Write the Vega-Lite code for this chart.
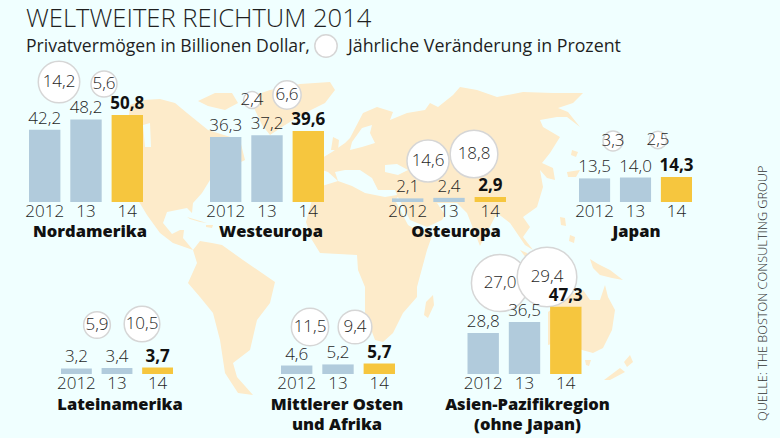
{"$schema":"https://vega.github.io/schema/vega-lite/v6.json","width":780,"height":438,"padding":0,"autosize":{"type":"none"},"background":"#f0ffff","config":{"view":{"stroke":null},"locale":{"number":{"decimal":",","thousands":".","grouping":[3],"currency":["","€"]}},"text":{"font":"Open Sans","fontWeight":300,"color":"#1f1f1f"}},"resolve":{"scale":{"x":"independent","y":"independent"}},"datasets":{"regionen":[
{"region":"Nordamerika","jahr":"2012","wert":42.2},{"region":"Nordamerika","jahr":"13","wert":48.2,"veraenderung":14.2},{"region":"Nordamerika","jahr":"14","wert":50.8,"veraenderung":5.6},
{"region":"Westeuropa","jahr":"2012","wert":36.3},{"region":"Westeuropa","jahr":"13","wert":37.2,"veraenderung":2.4},{"region":"Westeuropa","jahr":"14","wert":39.6,"veraenderung":6.6},
{"region":"Osteuropa","jahr":"2012","wert":2.1},{"region":"Osteuropa","jahr":"13","wert":2.4,"veraenderung":14.6},{"region":"Osteuropa","jahr":"14","wert":2.9,"veraenderung":18.8},
{"region":"Japan","jahr":"2012","wert":13.5},{"region":"Japan","jahr":"13","wert":14.0,"veraenderung":3.3},{"region":"Japan","jahr":"14","wert":14.3,"veraenderung":2.5},
{"region":"Lateinamerika","jahr":"2012","wert":3.2},{"region":"Lateinamerika","jahr":"13","wert":3.4,"veraenderung":5.9},{"region":"Lateinamerika","jahr":"14","wert":3.7,"veraenderung":10.5},
{"region":"Mittlerer Osten\nund Afrika","jahr":"2012","wert":4.6},{"region":"Mittlerer Osten\nund Afrika","jahr":"13","wert":5.2,"veraenderung":11.5},{"region":"Mittlerer Osten\nund Afrika","jahr":"14","wert":5.7,"veraenderung":9.4},
{"region":"Asien-Pazifikregion\n(ohne Japan)","jahr":"2012","wert":28.8},{"region":"Asien-Pazifikregion\n(ohne Japan)","jahr":"13","wert":36.5,"veraenderung":27.0},{"region":"Asien-Pazifikregion\n(ohne Japan)","jahr":"14","wert":47.3,"veraenderung":29.4}
]},"layer":[
{"data":{"values":{"type":"FeatureCollection","features":[
{"type":"Feature","properties":{"n":"Nordamerika"},"geometry":{"type":"Polygon","coordinates":[[[-106,84],[-97.5,84.5],[-90,82.5],[-84,77.5],[-73.5,69],[-57.5,64],[-55,54],[-65,49],[-72.5,44],[-76.5,37.5],[-81,32.5],[-81.5,27.5],[-84,30],[-94,28],[-96,22.5],[-91.5,17],[-87.5,19],[-85.5,19],[-86,15],[-81,9],[-91,12.5],[-97.5,17.5],[-104,26.5],[-110,36.5],[-115,59],[-112.5,81.5],[-106,84]]]}},
{"type":"Feature","properties":{"n":"Arktis"},"geometry":{"type":"Polygon","coordinates":[[[-78.5,83.5],[-70,87.5],[-61.5,87.5],[-58.5,82.5],[-65,79],[-73.5,81],[-78.5,83.5]]]}},
{"type":"Feature","properties":{"n":"Groenland"},"geometry":{"type":"Polygon","coordinates":[[[-52.5,85.5],[-42.5,89],[-27.5,92],[-12.5,93],[-10,89],[-15,82.5],[-25,77.5],[-35,71.5],[-42.5,66.5],[-46.5,71.5],[-50,79],[-52.5,85.5]]]}},
{"type":"Feature","properties":{"n":"Suedamerika"},"geometry":{"type":"Polygon","coordinates":[[[-81,9],[-77.5,13.5],[-71.5,12.5],[-66.5,11.5],[-56,4],[-40,-7],[-42.5,-17.5],[-49,-26],[-52.5,-41],[-61,-47.5],[-59,-54.5],[-51,-63.5],[-58.5,-62.5],[-65,-52.5],[-67.5,-36],[-71,-22.5],[-77.5,-14.5],[-83.5,-7.5],[-79,2.5],[-81,9]]]}},
{"type":"Feature","properties":{"n":"Eurasien und Afrika"},"geometry":{"type":"Polygon","coordinates":[[[-11.5,58],[-5,62.5],[-2.5,65],[4,77.5],[11,80.5],[19,78],[17.5,74],[26,77.5],[35,79],[37.5,82.5],[41.5,80.5],[49,86.5],[52.5,90.5],[61,89],[71,85.5],[84,88],[99,87.5],[114,87.5],[109,82.5],[101.5,80],[106.5,78],[112.5,70.5],[106,75.5],[101,75.5],[92.5,74],[94,70.5],[102.5,65.5],[97.5,57.5],[93.5,52.5],[99,50],[100,44],[96,45],[92.5,49],[94,40.5],[91,30.5],[84,25.5],[87.5,20.5],[84,15.5],[81,19],[82.5,17.5],[89,9],[85,11.5],[77.5,22.5],[71,27.5],[62.5,11],[56,27.5],[51,32.5],[41,32.5],[45,26.5],[43.5,24],[36,20.5],[27.5,24],[21.5,35.5],[20,34],[26.5,21.5],[29,20],[39,17.5],[36,9],[31,-9.5],[31,-14.5],[24,-22.5],[19,-32.5],[14,-37],[10,-36],[5,-22.5],[5,-9.5],[1.5,-1],[1,6.5],[-17.5,7.5],[-21.5,14],[-24.5,23],[-21.5,34],[-16.5,41],[-8.5,43.5],[-13.5,48],[-16.5,49],[-16.5,55],[-11.5,58]]]}},
{"type":"Feature","properties":{"n":"Grossbritannien"},"geometry":{"type":"Polygon","coordinates":[[[-11,65.5],[-8,64],[-8.5,59],[-12,59],[-11,65.5]]]}},
{"type":"Feature","properties":{"n":"Madagaskar"},"geometry":{"type":"Polygon","coordinates":[[[39,-13.5],[39.5,-18.5],[36.5,-25],[34.5,-23.5],[35.5,-17],[39,-13.5]]]}},
{"type":"Feature","properties":{"n":"Kuba"},"geometry":{"type":"Polygon","coordinates":[[[-84,25.5],[-74,22.5],[-77.5,23],[-82.5,24.5],[-84,25.5]]]}},
{"type":"Feature","properties":{"n":"Hispaniola"},"geometry":{"type":"Polygon","coordinates":[[[-74.5,21.5],[-71,21.5],[-71.5,20],[-74.5,20.5],[-74.5,21.5]]]}},
{"type":"Feature","properties":{"n":"Hokkaido"},"geometry":{"type":"Polygon","coordinates":[[[108.5,59],[111.5,58],[110.5,55.5],[108,56.5],[108.5,59]]]}},
{"type":"Feature","properties":{"n":"Honshu"},"geometry":{"type":"Polygon","coordinates":[[[106,48],[112.5,49],[110.5,45.5],[106.5,45.5],[106,48]]]}},
{"type":"Feature","properties":{"n":"Taiwan"},"geometry":{"type":"Polygon","coordinates":[[[102.5,25.5],[105,25],[105.5,21],[103,21.5],[102.5,25.5]]]}},
{"type":"Feature","properties":{"n":"Philippinen"},"geometry":{"type":"Polygon","coordinates":[[[107.5,16.5],[110,15.5],[109.5,12.5],[107,13.5],[107.5,16.5]]]}},
{"type":"Feature","properties":{"n":"Sumatra"},"geometry":{"type":"Polygon","coordinates":[[[82.5,9],[86,7.5],[91,1.5],[87.5,2.5],[82.5,9]]]}},
{"type":"Feature","properties":{"n":"Neuguinea"},"geometry":{"type":"Polygon","coordinates":[[[117.5,4.5],[121.5,2],[127.5,-1],[134,-6],[128.5,-5],[122.5,-3.5],[119,0],[117.5,4.5]]]}},
{"type":"Feature","properties":{"n":"Australien"},"geometry":{"type":"Polygon","coordinates":[[[96.5,-22],[107.5,-13.5],[114,-11],[117.5,-16],[122.5,-16],[125,-8.5],[126.5,-14.5],[130,-21],[128.5,-31],[124,-40],[119,-42.5],[113.5,-41],[105,-36],[96.5,-38.5],[96.5,-22]]]}},
{"type":"Feature","properties":{"n":"Tasmanien"},"geometry":{"type":"Polygon","coordinates":[[[115,-46],[118,-46],[117,-49],[115.5,-48.5],[115,-46]]]}},
{"type":"Feature","properties":{"n":"Neuseeland Nord"},"geometry":{"type":"Polygon","coordinates":[[[137.5,-43.5],[139,-47],[136,-49.5],[134.5,-47],[137.5,-43.5]]]}},
{"type":"Feature","properties":{"n":"Neuseeland Sued"},"geometry":{"type":"Polygon","coordinates":[[[132.5,-50],[135,-52],[127.5,-56],[124.5,-56],[132.5,-50]]]}}
]},"format":{"type":"json","property":"features"}},"projection":{"type":"identity","reflectY":true,"scale":2,"translate":[355,268]},"mark":{"type":"geoshape","fill":"#fdebca","stroke":null}},
{"data":{"values":{"type":"FeatureCollection","features":[
{"type":"Feature","properties":{"n":"Hudson Bay"},"geometry":{"type":"Polygon","coordinates":[[[-106,71.5],[-102.5,72.5],[-102,60.5],[-105,60.5],[-106,71.5]]]}},
{"type":"Feature","properties":{"n":"Mittelmeer"},"geometry":{"type":"Polygon","coordinates":[[[-10,48],[-5,49],[2.5,49],[8.5,45],[11.5,39],[20,39],[21,36.5],[15,35.5],[5,37.5],[-1.5,41],[-8.5,43.5],[-10,48]]]}},
{"type":"Feature","properties":{"n":"Schwarzes Meer"},"geometry":{"type":"Polygon","coordinates":[[[15,51.5],[21,52],[26.5,49],[21.5,46.5],[15,48],[15,51.5]]]}},
{"type":"Feature","properties":{"n":"Ostsee"},"geometry":{"type":"Polygon","coordinates":[[[-1.5,63],[3.5,70],[8.5,71.5],[7.5,67.5],[10,62.5],[3.5,60.5],[-2.5,59],[-1.5,63]]]}}
]},"format":{"type":"json","property":"features"}},"projection":{"type":"identity","reflectY":true,"scale":2,"translate":[355,268]},"mark":{"type":"geoshape","fill":"#f0ffff","stroke":null}},

{"data":{"values":[{}]},"mark":{"type":"text","align":"left","baseline":"alphabetic","fontSize":25.6,"fontWeight":300},"encoding":{"x":{"value":26},"y":{"value":27},"text":{"value":"WELTWEITER REICHTUM 2014"}}},
{"data":{"values":[{}]},"mark":{"type":"text","align":"left","baseline":"alphabetic","fontSize":17.6,"fontWeight":400},"encoding":{"x":{"value":26},"y":{"value":52},"text":{"value":"Privatvermögen in Billionen Dollar,"}}},
{"data":{"values":[{}]},"mark":{"type":"text","align":"left","baseline":"alphabetic","fontSize":17.8,"fontWeight":400},"encoding":{"x":{"value":348},"y":{"value":52},"text":{"value":"Jährliche Veränderung in Prozent"}}},
{"data":{"values":[{}]},"mark":{"type":"circle","fill":"#ffffff","stroke":"#d6d6d6","strokeWidth":1.5,"opacity":1,"size":500},"encoding":{"x":{"value":326},"y":{"value":46}}},
{"data":{"values":[{}]},"mark":{"type":"text","align":"left","baseline":"alphabetic","angle":270,"fontSize":12.7,"fontWeight":300,"color":"#333333"},"encoding":{"x":{"value":767},"y":{"value":421},"text":{"value":"QUELLE: THE BOSTON CONSULTING GROUP"}}},

{"data":{"name":"regionen"},"transform":[{"filter":{"field":"region","equal":"Nordamerika"}},{"filter":{"field":"jahr","oneOf":["13","14"]}}],"encoding":{"x":{"field":"veraenderung","type":"quantitative","axis":null,"scale":{"domain":[5.6,14.2],"range":[104,59],"nice":false,"zero":false}},"y":{"field":"veraenderung","type":"quantitative","axis":null,"scale":{"domain":[5.6,14.2],"range":[84,82],"nice":false,"zero":false}}},"layer":[{"mark":{"type":"circle","fill":"#ffffff","stroke":"#d6d6d6","strokeWidth":1.5,"opacity":1},"encoding":{"size":{"field":"veraenderung","type":"quantitative","legend":null,"scale":{"domain":[0,30],"range":[0,3630]}}}},{"mark":{"type":"text","fontSize":17},"encoding":{"text":{"field":"veraenderung","type":"quantitative","format":".1f"}}}]},
{"data":{"name":"regionen"},"transform":[{"filter":{"field":"region","equal":"Westeuropa"}},{"filter":{"field":"jahr","oneOf":["13","14"]}}],"encoding":{"x":{"field":"veraenderung","type":"quantitative","axis":null,"scale":{"domain":[2.4,6.6],"range":[252,287],"nice":false,"zero":false}},"y":{"field":"veraenderung","type":"quantitative","axis":null,"scale":{"domain":[2.4,6.6],"range":[100,95],"nice":false,"zero":false}}},"layer":[{"mark":{"type":"circle","fill":"#ffffff","stroke":"#d6d6d6","strokeWidth":1.5,"opacity":1},"encoding":{"size":{"field":"veraenderung","type":"quantitative","legend":null,"scale":{"domain":[0,30],"range":[0,3630]}}}},{"mark":{"type":"text","fontSize":17},"encoding":{"text":{"field":"veraenderung","type":"quantitative","format":".1f"}}}]},
{"data":{"name":"regionen"},"transform":[{"filter":{"field":"region","equal":"Osteuropa"}},{"filter":{"field":"jahr","oneOf":["13","14"]}}],"encoding":{"x":{"field":"veraenderung","type":"quantitative","axis":null,"scale":{"domain":[14.6,18.8],"range":[428,474],"nice":false,"zero":false}},"y":{"field":"veraenderung","type":"quantitative","axis":null,"scale":{"domain":[14.6,18.8],"range":[161,154],"nice":false,"zero":false}}},"layer":[{"mark":{"type":"circle","fill":"#ffffff","stroke":"#d6d6d6","strokeWidth":1.5,"opacity":1},"encoding":{"size":{"field":"veraenderung","type":"quantitative","legend":null,"scale":{"domain":[0,30],"range":[0,3630]}}}},{"mark":{"type":"text","fontSize":17},"encoding":{"text":{"field":"veraenderung","type":"quantitative","format":".1f"}}}]},
{"data":{"name":"regionen"},"transform":[{"filter":{"field":"region","equal":"Japan"}},{"filter":{"field":"jahr","oneOf":["13","14"]}}],"encoding":{"x":{"field":"veraenderung","type":"quantitative","axis":null,"scale":{"domain":[2.5,3.3],"range":[658,613],"nice":false,"zero":false}},"y":{"field":"veraenderung","type":"quantitative","axis":null,"scale":{"domain":[2.5,3.3],"range":[140,141],"nice":false,"zero":false}}},"layer":[{"mark":{"type":"circle","fill":"#ffffff","stroke":"#d6d6d6","strokeWidth":1.5,"opacity":1},"encoding":{"size":{"field":"veraenderung","type":"quantitative","legend":null,"scale":{"domain":[0,30],"range":[0,3630]}}}},{"mark":{"type":"text","fontSize":17},"encoding":{"text":{"field":"veraenderung","type":"quantitative","format":".1f"}}}]},
{"data":{"name":"regionen"},"transform":[{"filter":{"field":"region","equal":"Lateinamerika"}},{"filter":{"field":"jahr","oneOf":["13","14"]}}],"encoding":{"x":{"field":"veraenderung","type":"quantitative","axis":null,"scale":{"domain":[5.9,10.5],"range":[97,142],"nice":false,"zero":false}},"y":{"field":"veraenderung","type":"quantitative","axis":null,"scale":{"domain":[5.9,10.5],"range":[325,324],"nice":false,"zero":false}}},"layer":[{"mark":{"type":"circle","fill":"#ffffff","stroke":"#d6d6d6","strokeWidth":1.5,"opacity":1},"encoding":{"size":{"field":"veraenderung","type":"quantitative","legend":null,"scale":{"domain":[0,30],"range":[0,3630]}}}},{"mark":{"type":"text","fontSize":17},"encoding":{"text":{"field":"veraenderung","type":"quantitative","format":".1f"}}}]},
{"data":{"name":"regionen"},"transform":[{"filter":{"field":"region","equal":"Mittlerer Osten\nund Afrika"}},{"filter":{"field":"jahr","oneOf":["13","14"]}}],"encoding":{"x":{"field":"veraenderung","type":"quantitative","axis":null,"scale":{"domain":[9.4,11.5],"range":[355,310],"nice":false,"zero":false}},"y":{"field":"veraenderung","type":"quantitative","axis":null,"scale":{"domain":[9.4,11.5],"range":[327,327],"nice":false,"zero":false}}},"layer":[{"mark":{"type":"circle","fill":"#ffffff","stroke":"#d6d6d6","strokeWidth":1.5,"opacity":1},"encoding":{"size":{"field":"veraenderung","type":"quantitative","legend":null,"scale":{"domain":[0,30],"range":[0,3630]}}}},{"mark":{"type":"text","fontSize":17},"encoding":{"text":{"field":"veraenderung","type":"quantitative","format":".1f"}}}]},
{"data":{"name":"regionen"},"transform":[{"filter":{"field":"region","equal":"Asien-Pazifikregion\n(ohne Japan)"}},{"filter":{"field":"jahr","oneOf":["13","14"]}}],"encoding":{"x":{"field":"veraenderung","type":"quantitative","axis":null,"scale":{"domain":[27,29.4],"range":[500,547],"nice":false,"zero":false}},"y":{"field":"veraenderung","type":"quantitative","axis":null,"scale":{"domain":[27,29.4],"range":[283,277],"nice":false,"zero":false}}},"layer":[{"mark":{"type":"circle","fill":"#ffffff","stroke":"#d6d6d6","strokeWidth":1.5,"opacity":1},"encoding":{"size":{"field":"veraenderung","type":"quantitative","legend":null,"scale":{"domain":[0,30],"range":[0,3630]}}}},{"mark":{"type":"text","fontSize":17},"encoding":{"text":{"field":"veraenderung","type":"quantitative","format":".1f"}}}]},

{"data":{"name":"regionen"},"transform":[{"filter":{"field":"region","equal":"Nordamerika"}}],"encoding":{"x":{"field":"jahr","type":"nominal","sort":null,"axis":null,"scale":{"domain":["2012","13","14"],"range":[29,143],"paddingInner":0.24,"paddingOuter":0}},"y":{"field":"wert","type":"quantitative","axis":null,"scale":{"domain":[0,50.8],"range":[202,115],"nice":false}}},"layer":[{"mark":{"type":"bar"},"encoding":{"color":{"field":"jahr","type":"nominal","legend":null,"scale":{"domain":["2012","13","14"],"range":["#b1cbdc","#b1cbdc","#f6c63e"]}}}},{"transform":[{"filter":{"field":"jahr","oneOf":["2012","13"]}}],"mark":{"type":"text","fontSize":17,"dy":-11},"encoding":{"text":{"field":"wert","type":"quantitative","format":".1f"}}},{"transform":[{"filter":{"field":"jahr","equal":"14"}}],"mark":{"type":"text","fontSize":17,"dy":-11,"fontWeight":700,"color":"#111111"},"encoding":{"text":{"field":"wert","type":"quantitative","format":".1f"}}},{"mark":{"type":"text","fontSize":17,"dy":10},"encoding":{"y":{"datum":0,"type":"quantitative"},"text":{"field":"jahr","type":"nominal"}}},{"transform":[{"filter":{"field":"jahr","equal":"13"}}],"mark":{"type":"text","fontSize":16.5,"fontWeight":800,"color":"#111111","baseline":"top","dy":22,"xOffset":4,"lineBreak":"\n","lineHeight":19.5},"encoding":{"y":{"datum":0,"type":"quantitative"},"text":{"field":"region","type":"nominal"}}}]},
{"data":{"name":"regionen"},"transform":[{"filter":{"field":"region","equal":"Westeuropa"}}],"encoding":{"x":{"field":"jahr","type":"nominal","sort":null,"axis":null,"scale":{"domain":["2012","13","14"],"range":[210,324],"paddingInner":0.24,"paddingOuter":0}},"y":{"field":"wert","type":"quantitative","axis":null,"scale":{"domain":[0,39.6],"range":[202,131],"nice":false}}},"layer":[{"mark":{"type":"bar"},"encoding":{"color":{"field":"jahr","type":"nominal","legend":null,"scale":{"domain":["2012","13","14"],"range":["#b1cbdc","#b1cbdc","#f6c63e"]}}}},{"transform":[{"filter":{"field":"jahr","oneOf":["2012","13"]}}],"mark":{"type":"text","fontSize":17,"dy":-11},"encoding":{"text":{"field":"wert","type":"quantitative","format":".1f"}}},{"transform":[{"filter":{"field":"jahr","equal":"14"}}],"mark":{"type":"text","fontSize":17,"dy":-11,"fontWeight":700,"color":"#111111"},"encoding":{"text":{"field":"wert","type":"quantitative","format":".1f"}}},{"mark":{"type":"text","fontSize":17,"dy":10},"encoding":{"y":{"datum":0,"type":"quantitative"},"text":{"field":"jahr","type":"nominal"}}},{"transform":[{"filter":{"field":"jahr","equal":"13"}}],"mark":{"type":"text","fontSize":16.5,"fontWeight":800,"color":"#111111","baseline":"top","dy":22,"xOffset":4,"lineBreak":"\n","lineHeight":19.5},"encoding":{"y":{"datum":0,"type":"quantitative"},"text":{"field":"region","type":"nominal"}}}]},
{"data":{"name":"regionen"},"transform":[{"filter":{"field":"region","equal":"Osteuropa"}}],"encoding":{"x":{"field":"jahr","type":"nominal","sort":null,"axis":null,"scale":{"domain":["2012","13","14"],"range":[392,506],"paddingInner":0.24,"paddingOuter":0}},"y":{"field":"wert","type":"quantitative","axis":null,"scale":{"domain":[0,2.9],"range":[202,197],"nice":false}}},"layer":[{"mark":{"type":"bar"},"encoding":{"color":{"field":"jahr","type":"nominal","legend":null,"scale":{"domain":["2012","13","14"],"range":["#b1cbdc","#b1cbdc","#f6c63e"]}}}},{"transform":[{"filter":{"field":"jahr","oneOf":["2012","13"]}}],"mark":{"type":"text","fontSize":17,"dy":-11},"encoding":{"text":{"field":"wert","type":"quantitative","format":".1f"}}},{"transform":[{"filter":{"field":"jahr","equal":"14"}}],"mark":{"type":"text","fontSize":17,"dy":-11,"fontWeight":700,"color":"#111111"},"encoding":{"text":{"field":"wert","type":"quantitative","format":".1f"}}},{"mark":{"type":"text","fontSize":17,"dy":10},"encoding":{"y":{"datum":0,"type":"quantitative"},"text":{"field":"jahr","type":"nominal"}}},{"transform":[{"filter":{"field":"jahr","equal":"13"}}],"mark":{"type":"text","fontSize":16.5,"fontWeight":800,"color":"#111111","baseline":"top","dy":22,"xOffset":7,"lineBreak":"\n","lineHeight":19.5},"encoding":{"y":{"datum":0,"type":"quantitative"},"text":{"field":"region","type":"nominal"}}}]},
{"data":{"name":"regionen"},"transform":[{"filter":{"field":"region","equal":"Japan"}}],"encoding":{"x":{"field":"jahr","type":"nominal","sort":null,"axis":null,"scale":{"domain":["2012","13","14"],"range":[579,692],"paddingInner":0.24,"paddingOuter":0}},"y":{"field":"wert","type":"quantitative","axis":null,"scale":{"domain":[0,14.3],"range":[202,177],"nice":false}}},"layer":[{"mark":{"type":"bar"},"encoding":{"color":{"field":"jahr","type":"nominal","legend":null,"scale":{"domain":["2012","13","14"],"range":["#b1cbdc","#b1cbdc","#f6c63e"]}}}},{"transform":[{"filter":{"field":"jahr","oneOf":["2012","13"]}}],"mark":{"type":"text","fontSize":17,"dy":-11},"encoding":{"text":{"field":"wert","type":"quantitative","format":".1f"}}},{"transform":[{"filter":{"field":"jahr","equal":"14"}}],"mark":{"type":"text","fontSize":17,"dy":-11,"fontWeight":700,"color":"#111111"},"encoding":{"text":{"field":"wert","type":"quantitative","format":".1f"}}},{"mark":{"type":"text","fontSize":17,"dy":10},"encoding":{"y":{"datum":0,"type":"quantitative"},"text":{"field":"jahr","type":"nominal"}}},{"transform":[{"filter":{"field":"jahr","equal":"13"}}],"mark":{"type":"text","fontSize":16.5,"fontWeight":800,"color":"#111111","baseline":"top","dy":22,"xOffset":1,"lineBreak":"\n","lineHeight":19.5},"encoding":{"y":{"datum":0,"type":"quantitative"},"text":{"field":"region","type":"nominal"}}}]},
{"data":{"name":"regionen"},"transform":[{"filter":{"field":"region","equal":"Lateinamerika"}}],"encoding":{"x":{"field":"jahr","type":"nominal","sort":null,"axis":null,"scale":{"domain":["2012","13","14"],"range":[61,173],"paddingInner":0.24,"paddingOuter":0}},"y":{"field":"wert","type":"quantitative","axis":null,"scale":{"domain":[0,3.7],"range":[374,367.5],"nice":false}}},"layer":[{"mark":{"type":"bar"},"encoding":{"color":{"field":"jahr","type":"nominal","legend":null,"scale":{"domain":["2012","13","14"],"range":["#b1cbdc","#b1cbdc","#f6c63e"]}}}},{"transform":[{"filter":{"field":"jahr","oneOf":["2012","13"]}}],"mark":{"type":"text","fontSize":17,"dy":-11},"encoding":{"text":{"field":"wert","type":"quantitative","format":".1f"}}},{"transform":[{"filter":{"field":"jahr","equal":"14"}}],"mark":{"type":"text","fontSize":17,"dy":-11,"fontWeight":700,"color":"#111111"},"encoding":{"text":{"field":"wert","type":"quantitative","format":".1f"}}},{"mark":{"type":"text","fontSize":17,"dy":10},"encoding":{"y":{"datum":0,"type":"quantitative"},"text":{"field":"jahr","type":"nominal"}}},{"transform":[{"filter":{"field":"jahr","equal":"13"}}],"mark":{"type":"text","fontSize":16.5,"fontWeight":800,"color":"#111111","baseline":"top","dy":23,"xOffset":3,"lineBreak":"\n","lineHeight":19.5},"encoding":{"y":{"datum":0,"type":"quantitative"},"text":{"field":"region","type":"nominal"}}}]},
{"data":{"name":"regionen"},"transform":[{"filter":{"field":"region","equal":"Mittlerer Osten\nund Afrika"}}],"encoding":{"x":{"field":"jahr","type":"nominal","sort":null,"axis":null,"scale":{"domain":["2012","13","14"],"range":[281,395],"paddingInner":0.24,"paddingOuter":0}},"y":{"field":"wert","type":"quantitative","axis":null,"scale":{"domain":[0,5.7],"range":[374,363.5],"nice":false}}},"layer":[{"mark":{"type":"bar"},"encoding":{"color":{"field":"jahr","type":"nominal","legend":null,"scale":{"domain":["2012","13","14"],"range":["#b1cbdc","#b1cbdc","#f6c63e"]}}}},{"transform":[{"filter":{"field":"jahr","oneOf":["2012","13"]}}],"mark":{"type":"text","fontSize":17,"dy":-11},"encoding":{"text":{"field":"wert","type":"quantitative","format":".1f"}}},{"transform":[{"filter":{"field":"jahr","equal":"14"}}],"mark":{"type":"text","fontSize":17,"dy":-11,"fontWeight":700,"color":"#111111"},"encoding":{"text":{"field":"wert","type":"quantitative","format":".1f"}}},{"mark":{"type":"text","fontSize":17,"dy":10},"encoding":{"y":{"datum":0,"type":"quantitative"},"text":{"field":"jahr","type":"nominal"}}},{"transform":[{"filter":{"field":"jahr","equal":"13"}}],"mark":{"type":"text","fontSize":16.5,"fontWeight":800,"color":"#111111","baseline":"top","dy":23,"xOffset":-1,"lineBreak":"\n","lineHeight":19.5},"encoding":{"y":{"datum":0,"type":"quantitative"},"text":{"field":"region","type":"nominal"}}}]},
{"data":{"name":"regionen"},"transform":[{"filter":{"field":"region","equal":"Asien-Pazifikregion\n(ohne Japan)"}}],"encoding":{"x":{"field":"jahr","type":"nominal","sort":null,"axis":null,"scale":{"domain":["2012","13","14"],"range":[467.5,581.5],"paddingInner":0.24,"paddingOuter":0}},"y":{"field":"wert","type":"quantitative","axis":null,"scale":{"domain":[0,47.3],"range":[374,306.7],"nice":false}}},"layer":[{"mark":{"type":"bar"},"encoding":{"color":{"field":"jahr","type":"nominal","legend":null,"scale":{"domain":["2012","13","14"],"range":["#b1cbdc","#b1cbdc","#f6c63e"]}}}},{"transform":[{"filter":{"field":"jahr","oneOf":["2012","13"]}}],"mark":{"type":"text","fontSize":17,"dy":-11},"encoding":{"text":{"field":"wert","type":"quantitative","format":".1f"}}},{"transform":[{"filter":{"field":"jahr","equal":"14"}}],"mark":{"type":"text","fontSize":17,"dy":-11,"fontWeight":700,"color":"#111111"},"encoding":{"text":{"field":"wert","type":"quantitative","format":".1f"}}},{"mark":{"type":"text","fontSize":17,"dy":10},"encoding":{"y":{"datum":0,"type":"quantitative"},"text":{"field":"jahr","type":"nominal"}}},{"transform":[{"filter":{"field":"jahr","equal":"13"}}],"mark":{"type":"text","fontSize":16.5,"fontWeight":800,"color":"#111111","baseline":"top","dy":23,"xOffset":3,"lineBreak":"\n","lineHeight":19.5},"encoding":{"y":{"datum":0,"type":"quantitative"},"text":{"field":"region","type":"nominal"}}}]}
]}
